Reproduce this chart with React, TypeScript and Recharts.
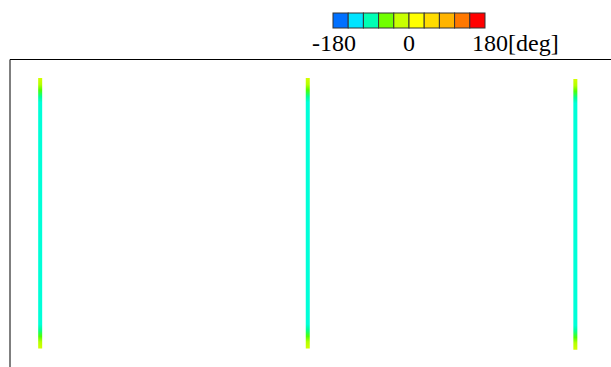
import React from 'react';
import { BarChart, Bar, XAxis, YAxis } from 'recharts';

// three probe lines, x station and vertical extent (normalised)
const stations = [0, 1, 2];
const lineBottom = [0, 0, -0.004];
const lineTop = [1, 1, 0.996];

// colour scale legend
const scaleColors = ['#0070ff', '#00e4ff', '#00ffb4', '#70ff00', '#c8ff00', '#ffff00', '#ffdc00', '#ffb400', '#ff7800', '#ff0000'];
const scaleTicks = ['-180', '0', '180'];
const scaleUnit = '[deg]';

const data = stations.map((s, i) => ({ x: s, range: [lineBottom[i], lineTop[i]] }));

const labelStyle: React.CSSProperties = {
  position: 'absolute',
  top: 29,
  fontFamily: 'Liberation Serif',
  fontSize: 24,
  lineHeight: '28px',
  color: '#000',
  whiteSpace: 'nowrap',
};

const ColorScale: React.FC = () => {
  const x0 = 333;
  const w = 152;
  const cell = w / scaleColors.length;
  return (
    <div style={{ position: 'absolute', left: 0, top: 0, width: 611, height: 58 }}>
      <svg width={611} height={30} style={{ position: 'absolute', left: 0, top: 0 }}>
        {scaleColors.map((c, i) => (
          <rect key={c} x={x0 + i * cell} y={13} width={cell} height={15} fill={c} stroke="#333" strokeWidth={1} />
        ))}
      </svg>
      <span style={{ ...labelStyle, left: x0 + 1, transform: 'translateX(-50%)' }}>{scaleTicks[0]}</span>
      <span style={{ ...labelStyle, left: x0 + w / 2, transform: 'translateX(-50%)' }}>{scaleTicks[1]}</span>
      <span style={{ ...labelStyle, left: x0 + w - 13 }}>{scaleTicks[2] + scaleUnit}</span>
    </div>
  );
};

export default function App() {
  return (
    <div style={{ position: 'absolute', left: 0, top: 0, width: 611, height: 367, background: '#fff' }}>
      <ColorScale />
      <BarChart
        width={611}
        height={367}
        data={data}
        margin={{ top: 58.5, right: 0, left: 9, bottom: 0 }}
        style={{ position: 'absolute', left: 0, top: 0 }}
      >
        <defs>
          <linearGradient id="phaseGrad" x1="0" y1="0" x2="0" y2="1">
            <stop offset="0" stopColor="#d4ff00" />
            <stop offset="0.025" stopColor="#b4ff00" />
            <stop offset="0.045" stopColor="#50ff00" />
            <stop offset="0.07" stopColor="#00ff9a" />
            <stop offset="0.09" stopColor="#00ffd8" />
            <stop offset="0.91" stopColor="#00ffd8" />
            <stop offset="0.93" stopColor="#00ff9a" />
            <stop offset="0.955" stopColor="#50ff00" />
            <stop offset="0.975" stopColor="#b4ff00" />
            <stop offset="1" stopColor="#d4ff00" />
          </linearGradient>
        </defs>
        <XAxis
          dataKey="x"
          type="number"
          orientation="top"
          domain={[-0.112, 2.134]}
          height={1}
          tick={false}
          tickLine={false}
          axisLine={{ stroke: '#000', strokeWidth: 1 }}
        />
        <YAxis
          type="number"
          domain={[-0.068, 1.068]}
          width={1}
          tick={false}
          tickLine={false}
          axisLine={{ stroke: '#000', strokeWidth: 1 }}
        />
        <Bar dataKey="range" barSize={4} fill="url(#phaseGrad)" isAnimationActive={false} />
      </BarChart>
    </div>
  );
}
